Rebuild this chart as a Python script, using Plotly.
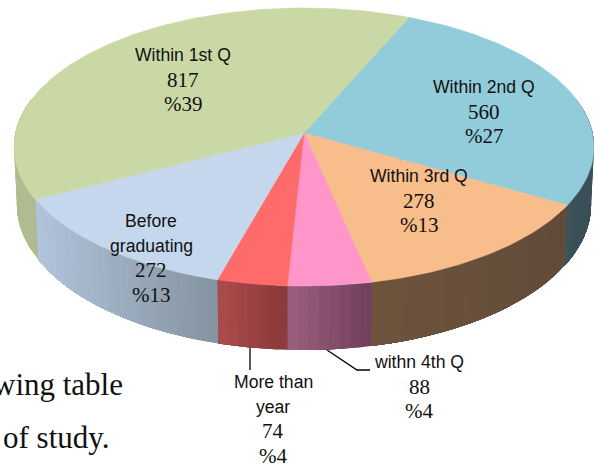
import math
import plotly.graph_objects as go

# ---- data ----
categories = ["Within 2nd Q", "Within 3rd Q", "withn 4th Q", "More than year", "Before graduating", "Within 1st Q"]
values = [560, 278, 88, 74, 272, 817]
percents = ["%27", "%13", "%4", "%4", "%13", "%39"]
name_lines = [["Within 2nd Q"], ["Within 3rd Q"], ["withn 4th Q"], ["More than", "year"], ["Before", "graduating"], ["Within 1st Q"]]

# ---- styles ----
top_colors = ["#92CBDA", "#F7BD8A", "#FF96C9", "#FF6B6B", "#C4D7EC", "#CAD8A6"]
wall_left = ["#3E5660", "#6E543D", "#9C5F80", "#AB4C4C", "#B2C3DC", "#B0BC90"]
wall_right = ["#3A4F57", "#614B39", "#6F3F5B", "#8A3838", "#83939F", "#AAB78A"]

# ---- layout of the 3D view ----
AX, AY = 304, 133      # pie centre on screen
A, B, K = 288.5, 137.6, 0.1007
START = 23.4
WALL_SCALE = 0.99
label_xy = [(484, 87), (419, 176), (419, 362), (273, 382), (151, 221), (183, 55)]
LINE = 24.6


def project(theta):
    t = math.radians(theta)
    u, v = math.sin(t), -math.cos(t)
    w = 1 - K * v
    return A * u / w, B * v / w, v


def top_pt(theta):
    x, y, _ = project(theta)
    return AX + x, AY + y


def bottom_pt(theta):
    x, y, v = project(theta)
    return AX + WALL_SCALE * x, AY + y + 56.5 + 7.5 * v


def hex_mix(a, b, f):
    ca = [int(a[i:i + 2], 16) for i in (1, 3, 5)]
    cb = [int(b[i:i + 2], 16) for i in (1, 3, 5)]
    return "#%02x%02x%02x" % tuple(round(p + (q - p) * f) for p, q in zip(ca, cb))


def arange(a, b, step=1.0):
    n = max(1, int(math.ceil(abs(b - a) / step)))
    return [a + (b - a) * i / n for i in range(n + 1)]


total = sum(values)
edges = [START]
for val in values:
    edges.append(edges[-1] + val / total * 360)

fig = go.Figure()


def poly(xs, ys, color, outline=True):
    line = dict(color=color, width=0.6) if outline else dict(width=0)
    fig.add_trace(go.Scatter(x=xs, y=ys, mode="lines" if outline else "none", fill="toself", fillcolor=color,
                             line=line, hoverinfo="skip", showlegend=False))


# side walls: each strip runs to the far end of the slice and the next strip paints
# over it, so no seams show and the shade runs across the slice
for i, name in enumerate(categories):
    a, b = max(edges[i], 75), min(edges[i + 1], 285)
    if b <= a:
        continue
    ths = arange(a, b, 2.0)
    x0 = top_pt(b)[0]; x1 = top_pt(a)[0]
    for p in ths[:-1]:
        rest = arange(p, b, 2.0)
        tops = [top_pt(t) for t in rest]
        bots = [bottom_pt(t) for t in rest][::-1]
        f = (top_pt(p + 1.0)[0] - x0) / (x1 - x0 or 1)
        xs = [q[0] for q in tops + bots]
        ys = [q[1] for q in tops + bots]
        poly(xs + xs[:1], ys + ys[:1], hex_mix(wall_left[i], wall_right[i], max(0, min(1, f))), outline=False)

# top faces
for i, name in enumerate(categories):
    pts = [top_pt(t) for t in arange(edges[i], edges[i + 1], 1.0)]
    xs = [AX] + [p[0] for p in pts] + [AX]
    ys = [AY] + [p[1] for p in pts] + [AY]
    poly(xs, ys, top_colors[i])

# leader lines
fig.add_trace(go.Scatter(x=[250, 250], y=[348, 370], mode="lines", line=dict(color="#000", width=1.3),
                         hoverinfo="skip", showlegend=False))
fig.add_trace(go.Scatter(x=[327, 357, 370], y=[350, 370, 370], mode="lines", line=dict(color="#000", width=1.3),
                         hoverinfo="skip", showlegend=False))

SANS = dict(family="Liberation Sans", size=17.6, color="#111")
SERIF = dict(family="Liberation Serif", size=21, color="#111")


def note(x, y, text, font, anchor="center"):
    fig.add_annotation(x=x, y=y, text=text, font=font, showarrow=False, xanchor=anchor, yanchor="middle",
                       xref="x", yref="y", borderpad=0)


for i, lines in enumerate(name_lines):
    x, y = label_xy[i]
    for line in lines:
        note(x, y, line, SANS)
        y += LINE
    note(x, y, str(values[i]), SERIF)
    y += LINE
    note(x, y, percents[i], SERIF)

# body text from the page behind the chart
BODY = dict(family="Liberation Serif", size=31, color="#111")
note(124, 384, "wing table", BODY, "right")
note(111, 437, "of study.", BODY, "right")

fig.update_layout(
    width=594, height=467, margin=dict(l=0, r=0, t=0, b=0), showlegend=False,
    paper_bgcolor="white", plot_bgcolor="white",
    xaxis=dict(range=[0, 594], visible=False, fixedrange=True),
    yaxis=dict(range=[467, 0], visible=False, fixedrange=True),
)
fig.write_html("out.html", config=dict(displayModeBar=False),
               post_script="document.body.style.margin='0';")
